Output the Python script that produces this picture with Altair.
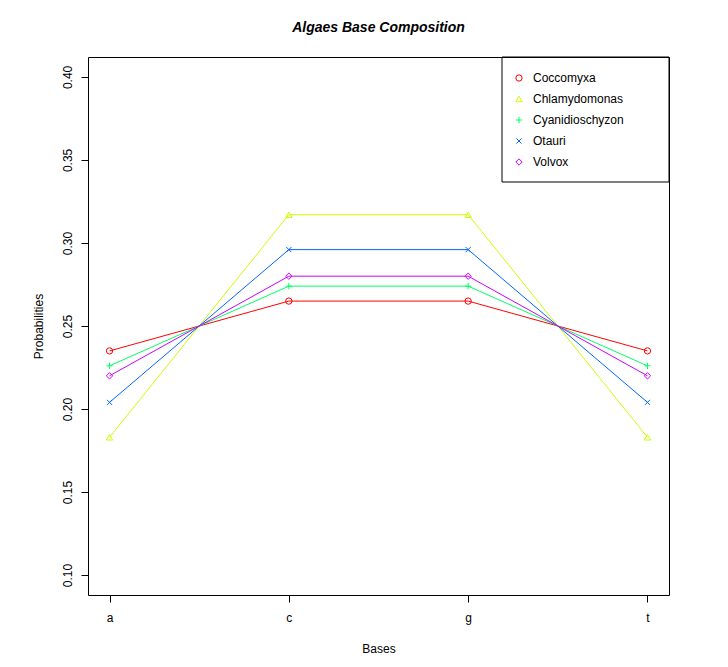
import altair as alt
import pandas as pd

bases = ["a", "c", "g", "t"]
species = ["Coccomyxa", "Chlamydomonas", "Cyanidioschyzon", "Otauri", "Volvox"]
coccomyxa = [0.235, 0.265, 0.265, 0.235]
chlamydomonas = [0.183, 0.317, 0.317, 0.183]
cyanidioschyzon = [0.226, 0.274, 0.274, 0.226]
otauri = [0.204, 0.296, 0.296, 0.204]
volvox = [0.220, 0.280, 0.280, 0.220]

colors = ["#FF0000", "#CCFF00", "#00FF66", "#0066FF", "#CC00FF"]
shapes = ["circle", "triangle-up", "M-1,0L1,0M0,-1L0,1", "M-0.8,-0.8L0.8,0.8M-0.8,0.8L0.8,-0.8", "diamond"]
y_ticks = [0.10, 0.15, 0.20, 0.25, 0.30, 0.35, 0.40]

series = [coccomyxa, chlamydomonas, cyanidioschyzon, otauri, volvox]
rows = []
for name, vals in zip(species, series):
    for b, v in zip(bases, vals):
        rows.append({"Base": b, "Species": name, "Prob": v})
df = pd.DataFrame(rows)

FONT = "Liberation Sans"

x = alt.X("Base:N", sort=bases,
          scale=alt.Scale(type="point", padding=0.12),
          axis=alt.Axis(title="Bases", labelAngle=0, domain=False, grid=False,
                        tickColor="black", tickSize=7, labelPadding=10,
                        labelFontSize=12, labelColor="black", labelFont=FONT,
                        titleFont=FONT, titleFontSize=12, titleFontWeight="normal",
                        titleColor="black", titleX=290.5, titleY=53,
                        titleBaseline="middle", titleAlign="center"))
y = alt.Y("Prob:Q",
          scale=alt.Scale(domain=[0.088, 0.412], nice=False, zero=False),
          axis=alt.Axis(title="Probabilities", values=y_ticks, format=".2f",
                        domain=False, grid=False, tickColor="black", tickSize=7,
                        labelAngle=270, labelAlign="center", labelBaseline="bottom",
                        labelPadding=7, labelFontSize=12, labelColor="black",
                        labelFont=FONT, titleFont=FONT, titleFontSize=12,
                        titleFontWeight="normal", titleColor="black",
                        titleAngle=270, titleX=-50, titleY=269,
                        titleBaseline="middle", titleAlign="center"))

leg = alt.Legend(title=None, orient="none", legendX=425, legendY=15,
                 labelFontSize=12, labelFont=FONT, labelColor="black",
                 rowPadding=9, padding=0, labelOffset=8,
                 symbolStrokeWidth=1, symbolSize=40, symbolType="circle")

color = alt.Color("Species:N", sort=species,
                  scale=alt.Scale(domain=species, range=colors), legend=leg)
shape = alt.Shape("Species:N", sort=species,
                  scale=alt.Scale(domain=species, range=shapes), legend=leg)

lines = alt.Chart(df).mark_line(strokeWidth=1).encode(
    x=x, y=y, color=color, detail="Species:N")
points = alt.Chart(df).mark_point(filled=False, size=40, strokeWidth=1, opacity=1).encode(
    x=x, y=y, color=color, shape=shape)

legend_box = alt.Chart(alt.Data(values=[{"k": 1}])).mark_rect(
    fill=None, stroke="black", strokeWidth=1).encode(
    x=alt.value(414), x2=alt.value(581), y=alt.value(0), y2=alt.value(125))

chart = alt.layer(lines, points, legend_box).properties(
    width=581, height=538,
    background="white",
    title=alt.Title("Algaes Base Composition", font=FONT, fontSize=14,
                    fontWeight="bold", fontStyle="italic", color="black",
                    anchor="middle", offset=22),
    autosize=alt.AutoSizeParams(type="none"),
    padding={"left": 88, "top": 57, "right": 59, "bottom": 72},
).configure_view(stroke="black", strokeWidth=1)

chart.save("out.html", embed_options={"renderer": "svg", "actions": False})
